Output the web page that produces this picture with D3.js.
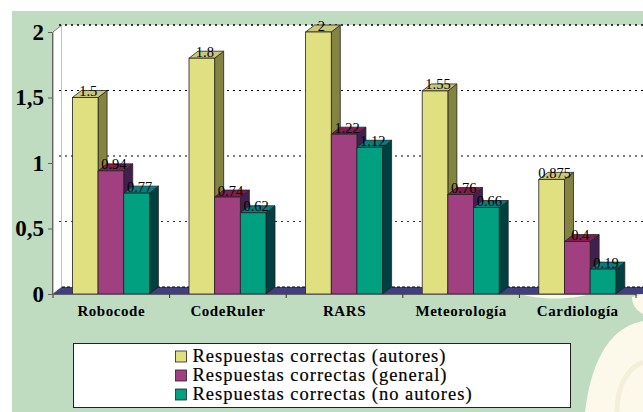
<!DOCTYPE html>
<html lang="es">
<head>
<meta charset="UTF-8">
<title>Respuestas correctas</title>
<script src="https://d3js.org/d3.v7.min.js"></script>
<style>
  html, body { margin: 0; padding: 0; background: #fff; }
  svg { display: block; font-family: "Liberation Serif", serif; }
</style>
</head>
<body>
<svg width="643" height="412"></svg>
<script>
// values
const categories = ["Robocode", "CodeRuler", "RARS", "Meteorología", "Cardiología"];
const seriesNames = ["Respuestas correctas (autores)", "Respuestas correctas (general)", "Respuestas correctas (no autores)"];
const autores = [1.5, 1.8, 2, 1.55, 0.875];
const general = [0.94, 0.74, 1.22, 0.76, 0.4];
const noAutores = [0.77, 0.62, 1.12, 0.66, 0.19];
const yTicks = [0, 0.5, 1, 1.5, 2];

const frontColors = ["#e0e080", "#a04080", "#00a080"];
const sideColors = ["#848440", "#40204f", "#004040"];
const topColors = ["#c8c878", "#801e50", "#008080"];

const svg = d3.select("svg");
const depthX = 9, depthY = 7;
const x0 = 53, x1 = 636, yBase = 294, yTop = 32;

const x = d3.scaleBand().domain(categories).range([x0, x1]);
const xInner = d3.scaleBand().domain(d3.range(3)).range([19.4, 96.4]);
const y = d3.scaleLinear().domain([0, 2]).range([yBase, yTop]);

// background and the pale watermark behind it
svg.append("rect").attr("x", 12).attr("y", 11).attr("width", 631).attr("height", 401).attr("fill", "#c0dcc0");
const deco = svg.append("g").attr("fill", "#fdf9ea");
deco.append("path").attr("d", "M585,412 C590,370 605,328 643,321 L643,412 Z");
deco.append("path").attr("d", "M520,294 C540,300 570,300 590,294 Z");
deco.append("path").attr("d", "M632,297 C632,305 636,310 643,314 L643,294 Z");
svg.append("path").attr("d", "M617,412 C617,385 628,368 643,362").attr("fill", "none").attr("stroke", "#f4efd9").attr("stroke-width", 5);

// left wall, back wall and floor
svg.append("path")
  .attr("d", `M${x0},${yBase} L${x0 + depthX},${yBase - depthY} L${x0 + depthX},${yTop - depthY} L${x0},${yTop} Z`)
  .attr("fill", "#fff").attr("stroke", "#808080");
svg.append("rect")
  .attr("x", x0 + depthX).attr("y", yTop - depthY)
  .attr("width", 643 - x0 - depthX).attr("height", yBase - yTop)
  .attr("fill", "#fff");
svg.append("path")
  .attr("d", `M${x0},${yBase} L${x0 + depthX},${yBase - depthY} L643,${yBase - depthY} L643,${yBase} Z`)
  .attr("fill", "#404080");

// dotted gridlines on the back wall
svg.append("g").selectAll("line").data(yTicks).join("line")
  .attr("x1", d => d === 0 ? x0 + depthX : x0 + depthX - 3).attr("x2", 643)
  .attr("y1", d => y(d) - depthY).attr("y2", d => y(d) - depthY)
  .attr("stroke", "#000")
  .attr("stroke-width", d => d === 2 ? 1.5 : d === 0.5 ? 0.8 : 1.1)
  .attr("stroke-dasharray", d => d === 0 ? "3,2" : "2,4");

// bars
const rows = [autores, general, noAutores];
const barW = xInner.bandwidth();
categories.forEach((c, ci) => {
  const g = svg.append("g").attr("transform", `translate(${x(c)},0)`);
  rows.forEach((vals, si) => {
    const v = vals[ci], bx = xInner(si), by = y(v);
    g.append("path")
      .attr("d", `M${bx + barW},${by} l${depthX},${-depthY} V${yBase - depthY} l${-depthX},${depthY} Z`)
      .attr("fill", sideColors[si]).attr("stroke", "#222").attr("stroke-width", 0.8);
    g.append("path")
      .attr("d", `M${bx},${by} l${depthX},${-depthY} h${barW} l${-depthX},${depthY} Z`)
      .attr("fill", topColors[si]).attr("stroke", "#222").attr("stroke-width", 0.8);
    g.append("rect")
      .attr("x", bx).attr("y", by).attr("width", barW).attr("height", yBase - by)
      .attr("fill", frontColors[si]).attr("stroke", "#222").attr("stroke-width", 0.8);
  });
});

// data labels go over everything
categories.forEach((c, ci) => {
  rows.forEach((vals, si) => {
    svg.append("text")
      .attr("x", x(c) + xInner(si) + barW / 2 + 3)
      .attr("y", y(vals[ci]) - 1.5)
      .attr("text-anchor", "middle")
      .attr("font-size", 14.5).attr("fill", "#000")
      .text(String(vals[ci]));
  });
});

// axes
const yAxis = svg.append("g")
  .attr("transform", `translate(${x0 - 1},0)`)
  .call(d3.axisLeft(y).tickValues(yTicks).tickSize(4).tickPadding(4)
    .tickFormat(d => String(d).replace(".", ",")));
yAxis.selectAll("path, line").attr("stroke", "#606060");
yAxis.selectAll("text").attr("font-family", "Liberation Serif").attr("font-size", 23)
  .attr("font-weight", "bold").attr("fill", "#000");

const xAxis = svg.append("g")
  .attr("transform", `translate(0,${yBase})`)
  .call(d3.axisBottom(x).tickSize(0).tickPadding(11));
xAxis.select("path").attr("stroke", "#606060");
xAxis.selectAll("text").attr("font-family", "Liberation Serif").attr("font-size", 15)
  .attr("font-weight", "bold").attr("fill", "#000").attr("letter-spacing", 0.55);
svg.append("g").selectAll("line").data(categories).join("line")
  .attr("x1", d => x(d) + x.step()).attr("x2", d => x(d) + x.step())
  .attr("y1", yBase).attr("y2", yBase + 4).attr("stroke", "#333");
svg.append("line").attr("x1", x0).attr("x2", x0).attr("y1", yBase).attr("y2", yBase + 4).attr("stroke", "#333");

// legend
svg.append("rect").attr("x", 73.5).attr("y", 343.5).attr("width", 497).attr("height", 64)
  .attr("fill", "#fff").attr("stroke", "#222").attr("stroke-width", 1);
const legendY = d3.scalePoint().domain(seriesNames).range([356.5, 394.5]);
const legend = svg.append("g").selectAll("g").data(seriesNames).join("g")
  .attr("transform", d => `translate(175.5,${legendY(d)})`);
legend.append("rect").attr("y", -5.5).attr("width", 11).attr("height", 11)
  .attr("fill", (d, i) => frontColors[i]).attr("stroke", "#222").attr("stroke-width", 0.8);
legend.append("text").attr("x", 17).attr("y", 5.5)
  .attr("font-size", 18.5).attr("letter-spacing", 1).attr("fill", "#000")
  .attr("stroke", "#000").attr("stroke-width", 0.2)
  .text(d => d);
</script>
</body>
</html>
